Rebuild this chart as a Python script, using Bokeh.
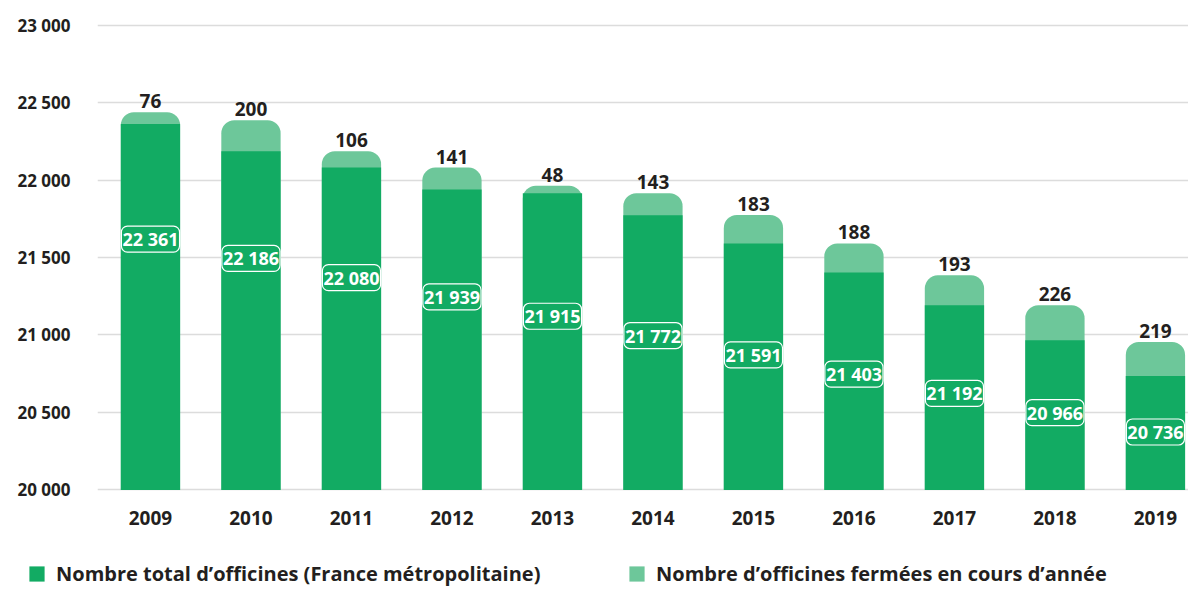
from bokeh.plotting import figure
from bokeh.layouts import column
from bokeh.models import FixedTicker, Legend, LegendItem, ColumnDataSource
from bokeh.core.properties import value
from bokeh.embed import file_html
from bokeh.resources import INLINE

years = [2009, 2010, 2011, 2012, 2013, 2014, 2015, 2016, 2017, 2018, 2019]
totals = [22361, 22186, 22080, 21939, 21915, 21772, 21591, 21403, 21192, 20966, 20736]
closed = [76, 200, 106, 141, 48, 143, 183, 188, 193, 226, 219]
y_ticks = [20000, 20500, 21000, 21500, 22000, 22500, 23000]
y_tick_labels = ["20 000", "20 500", "21 000", "21 500", "22 000", "22 500", "23 000"]
legend_labels = ["Nombre total d\u2019officines (France m\u00e9tropolitaine)",
                 "Nombre d\u2019officines ferm\u00e9es en cours d\u2019ann\u00e9e"]

DARK = "#12AB63"
LIGHT = "#6DC79A"
TXT = "#231F20"
FONT = "Open Sans"
W = 1188

def fmt(n):
    return f"{n:,}".replace(",", " ")

base = y_ticks[0]
src = ColumnDataSource(dict(
    x=years,
    total=totals,
    top_all=[t + c for t, c in zip(totals, closed)],
    base=[base] * len(years),
    closed_lbl=[str(c) for c in closed],
    total_lbl=[fmt(t) for t in totals],
    label_y=[21619 - 124.5 * i for i in range(len(years))],
))

p = figure(width=W, height=560, x_range=(2008.473, 2019.329), y_range=(19990, 23010),
           output_backend="svg", toolbar_location=None,
           min_border_left=97, min_border_right=0, min_border_top=23, min_border_bottom=69)
p.outline_line_color = None
p.xgrid.grid_line_color = None
p.ygrid.grid_line_color = "#DCDCDC"
p.ygrid.grid_line_width = 1.5
p.ygrid.ticker = FixedTicker(ticks=y_ticks)

p.yaxis.ticker = FixedTicker(ticks=y_ticks)
p.yaxis.major_label_overrides = {t: l for t, l in zip(y_ticks, y_tick_labels)}
p.xaxis.ticker = FixedTicker(ticks=years)
for ax in (p.xaxis, p.yaxis):
    ax.axis_line_color = None
    ax.major_tick_line_color = None
    ax.minor_tick_line_color = None
    ax.major_tick_out = 0
    ax.major_label_text_font = FONT
    ax.major_label_text_font_style = "bold"
    ax.major_label_text_color = TXT
p.yaxis.major_label_text_font_size = "17px"
p.yaxis.major_label_standoff = 27
p.xaxis.major_label_text_font_size = "19px"
p.xaxis.major_label_standoff = 19

p.vbar(x="x", bottom="base", top="top_all", width=0.59, source=src,
       fill_color=LIGHT, line_color=None, border_radius=(13, 13, 0, 0))
p.vbar(x="x", bottom="base", top="total", width=0.59, source=src,
       fill_color=DARK, line_color=None)

p.text(x="x", y="top_all", text="closed_lbl", source=src, y_offset=-11,
       text_align="center", text_baseline="alphabetic", text_font=value(FONT),
       text_font_style="bold", text_font_size="19px", text_color=TXT)

p.text(x="x", y="label_y", text="total_lbl", source=src,
       text_align="center", text_baseline="middle", text_font=value(FONT),
       text_font_style="bold", text_font_size="18px", text_color="white",
       background_fill_color=DARK, border_line_color="white", border_line_width=1.2,
       border_radius=6, padding=1)

# legend strip (separate, unaligned plot so the legend can start near the left edge)
lg = figure(width=W, height=29, x_range=(0, 1), y_range=(0, 1), output_backend="svg",
            toolbar_location=None, x_axis_location=None, y_axis_location=None,
            min_border=0, outline_line_color=None)
for fig in (p, lg):
    try:
        fig.frame_align = False
    except AttributeError:
        pass
lg.xgrid.grid_line_color = None
lg.ygrid.grid_line_color = None
# zero-height bars used only as legend swatches
r1 = lg.vbar(x="x", bottom="base", top="base", width=0.59, source=src, fill_color=DARK, line_color=None)
r2 = lg.vbar(x="x", bottom="base", top="base", width=0.59, source=src, fill_color=LIGHT, line_color=None)
legend = Legend(items=[LegendItem(label=legend_labels[0], renderers=[r1]),
                       LegendItem(label=legend_labels[1], renderers=[r2])],
                orientation="horizontal", location=(27, 2),
                glyph_width=19, glyph_height=19, label_standoff=10, label_width=532,
                label_height=19, spacing=39, padding=0, margin=0, border_line_color=None,
                background_fill_alpha=0, label_text_font=FONT, label_text_font_style="bold",
                label_text_font_size="20px", label_text_color=TXT)
lg.add_layout(legend, "center")

layout = column(p, lg, spacing=0)
open("out.html", "w").write(file_html(layout, INLINE))
